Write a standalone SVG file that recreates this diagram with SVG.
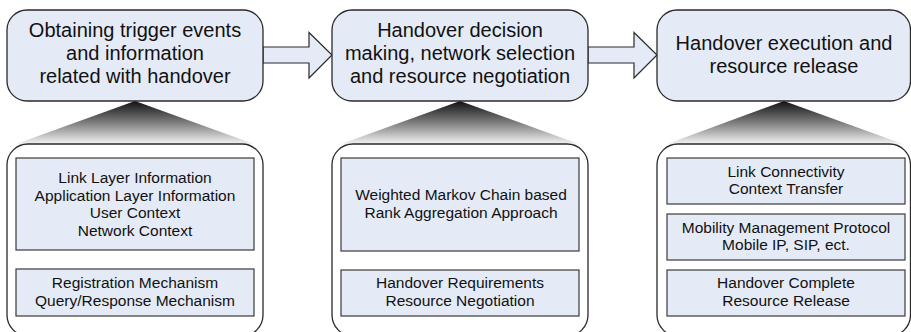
<svg xmlns="http://www.w3.org/2000/svg" width="911" height="332" viewBox="0 0 911 332">
<defs>
<linearGradient id="shade" x1="0" y1="0" x2="0" y2="1">
<stop offset="0" stop-color="#111"/>
<stop offset="0.55" stop-color="#888"/>
<stop offset="1" stop-color="#f4f4f4"/>
</linearGradient>
<style>
.top{fill:#e5ebf6;stroke:#2a2a2a;stroke-width:1.3}
.outer{fill:#fff;stroke:#2a2a2a;stroke-width:1.3}
.inner{fill:#e5ebf6;stroke:#3a3a3a;stroke-width:1.2}
.arrow{fill:#e5ebf6;stroke:#2a2a2a;stroke-width:1.2;stroke-linejoin:miter}
.shade{fill:url(#shade)}
text{font-family:"Liberation Sans",Arial,sans-serif;fill:#111;text-anchor:middle}
.t1{font-size:20px}
.t2{font-size:15.5px}
</style>
</defs>
<rect width="911" height="332" fill="#fff"/>
<g id="shadows">
<polygon class="shade" points="135,101 16,144 254,144"/>
<polygon class="shade" points="460,101 341,144 579,144"/>
<polygon class="shade" points="784,101 667,144 903,144"/>
</g>
<g id="connectors">
<polygon class="arrow" points="263,47 309,47 309,32.5 332,55 309,78 309,63 263,63"/>
<polygon class="arrow" points="588,47 634,47 634,32.5 657,55 634,78 634,63 588,63"/>
</g>
<g id="stage1">
<rect class="top" x="7" y="10" width="256" height="91" rx="20"/>
<text class="t1" x="135" y="37">Obtaining trigger events</text>
<text class="t1" x="135" y="60">and information</text>
<text class="t1" x="135" y="83">related with handover</text>
</g>
<g id="stage2">
<rect class="top" x="332" y="10" width="256" height="91" rx="20"/>
<text class="t1" x="460" y="37">Handover decision</text>
<text class="t1" x="460" y="60">making, network selection</text>
<text class="t1" x="460" y="83">and resource negotiation</text>
</g>
<g id="stage3">
<rect class="top" x="657" y="10" width="253.5" height="91" rx="20"/>
<text class="t1" x="784" y="50">Handover execution and</text>
<text class="t1" x="784" y="73">resource release</text>
</g>
<g id="detail1">
<rect class="outer" x="7" y="144" width="256" height="192" rx="21"/>
<rect class="inner" x="16" y="158" width="238" height="92"/>
<text class="t2" x="135" y="183">Link Layer Information</text>
<text class="t2" x="135" y="200.7">Application Layer Information</text>
<text class="t2" x="135" y="218.4">User Context</text>
<text class="t2" x="135" y="236">Network Context</text>
<rect class="inner" x="16" y="269" width="238" height="47"/>
<text class="t2" x="135" y="288">Registration Mechanism</text>
<text class="t2" x="135" y="306">Query/Response Mechanism</text>
</g>
<g id="detail2">
<rect class="outer" x="332" y="144" width="256" height="192" rx="21"/>
<rect class="inner" x="341" y="158" width="238" height="93"/>
<text class="t2" x="461" y="200">Weighted Markov Chain based</text>
<text class="t2" x="461" y="217.7">Rank Aggregation Approach</text>
<rect class="inner" x="341" y="270" width="238" height="46"/>
<text class="t2" x="460" y="288">Handover Requirements</text>
<text class="t2" x="460" y="306">Resource Negotiation</text>
</g>
<g id="detail3">
<rect class="outer" x="657" y="144" width="253.5" height="192" rx="21"/>
<rect class="inner" x="667" y="158" width="238" height="46"/>
<text class="t2" x="786" y="176.7">Link Connectivity</text>
<text class="t2" x="786" y="194.3">Context Transfer</text>
<rect class="inner" x="667" y="214" width="238" height="46"/>
<text class="t2" x="786" y="232.7">Mobility Management Protocol</text>
<text class="t2" x="786" y="250">Mobile IP, SIP, ect.</text>
<rect class="inner" x="667" y="270" width="238" height="46"/>
<text class="t2" x="786" y="288">Handover Complete</text>
<text class="t2" x="786" y="306">Resource Release</text>
</g>
</svg>
